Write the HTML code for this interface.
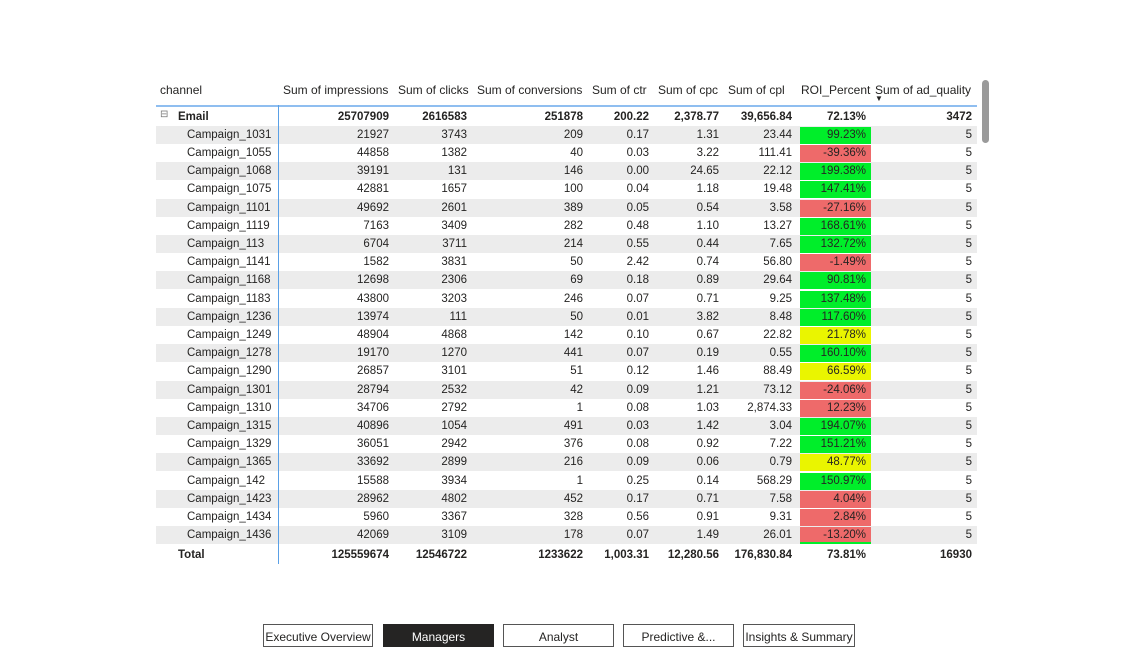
<!DOCTYPE html>
<html><head><meta charset="utf-8"><style>
body{margin:0;width:1147px;height:647px;background:#fff;font-family:"Liberation Sans",sans-serif;font-size:11.5px;color:#252423;position:relative;overflow:hidden}
.a{position:absolute;white-space:nowrap}
.r{text-align:right}
.btn{position:absolute;top:624px;height:23px;border:1px solid #555;box-sizing:border-box;background:#fff;font-size:12px;text-align:center;line-height:25px;color:#252423}
</style></head><body>
<div id="tbl"></div>
<div class="a" style="left:982px;top:80px;width:7px;height:63px;background:#9a9a9a;border-radius:4px"></div>
<div class="btn" style="left:263px;width:110px">Executive Overview</div>
<div class="btn" style="left:383px;width:111px;background:#252423;color:#fff;border-color:#252423">Managers</div>
<div class="btn" style="left:503px;width:111px">Analyst</div>
<div class="btn" style="left:623px;width:111px">Predictive &amp;...</div>
<div class="btn" style="left:743px;width:112px">Insights &amp; Summary</div>
<script>
const headers=["Sum of impressions","Sum of clicks","Sum of conversions","Sum of ctr","Sum of cpc","Sum of cpl","ROI_Percent","Sum of ad_quality"];
const campaigns=["Campaign_1031","Campaign_1055","Campaign_1068","Campaign_1075","Campaign_1101","Campaign_1119","Campaign_113","Campaign_1141","Campaign_1168","Campaign_1183","Campaign_1236","Campaign_1249","Campaign_1278","Campaign_1290","Campaign_1301","Campaign_1310","Campaign_1315","Campaign_1329","Campaign_1365","Campaign_142","Campaign_1423","Campaign_1434","Campaign_1436"];
const impressions=[21927,44858,39191,42881,49692,7163,6704,1582,12698,43800,13974,48904,19170,26857,28794,34706,40896,36051,33692,15588,28962,5960,42069];
const clicks=[3743,1382,131,1657,2601,3409,3711,3831,2306,3203,111,4868,1270,3101,2532,2792,1054,2942,2899,3934,4802,3367,3109];
const conversions=[209,40,146,100,389,282,214,50,69,246,50,142,441,51,42,1,491,376,216,1,452,328,178];
const ctr=["0.17","0.03","0.00","0.04","0.05","0.48","0.55","2.42","0.18","0.07","0.01","0.10","0.07","0.12","0.09","0.08","0.03","0.08","0.09","0.25","0.17","0.56","0.07"];
const cpc=["1.31","3.22","24.65","1.18","0.54","1.10","0.44","0.74","0.89","0.71","3.82","0.67","0.19","1.46","1.21","1.03","1.42","0.92","0.06","0.14","0.71","0.91","1.49"];
const cpl=["23.44","111.41","22.12","19.48","3.58","13.27","7.65","56.80","29.64","9.25","8.48","22.82","0.55","88.49","73.12","2,874.33","3.04","7.22","0.79","568.29","7.58","9.31","26.01"];
const roi=[99.23,-39.36,199.38,147.41,-27.16,168.61,132.72,-1.49,90.81,137.48,117.60,21.78,160.10,66.59,-24.06,12.23,194.07,151.21,48.77,150.97,4.04,2.84,-13.20];
const adq=[5,5,5,5,5,5,5,5,5,5,5,5,5,5,5,5,5,5,5,5,5,5,5];
const emailRow=["25707909","2616583","251878","200.22","2,378.77","39,656.84","72.13%","3472"];
const totalRow=["125559674","12546722","1233622","1,003.31","12,280.56","176,830.84","73.81%","16930"];
const T=document.getElementById('tbl');
const rights=[389,467,583,649,719,792,866,972];
const hlefts=[283,398,477,592,658,728,801,875];
function txt(s,x,y,opts){const d=document.createElement('div');d.className='a';d.textContent=s;d.style.left=x+'px';d.style.top=y+'px';if(opts)Object.assign(d.style,opts);T.appendChild(d);return d;}
function rtxt(s,right,y,bold){const d=txt(s,right-150,y,{width:'150px',textAlign:'right',fontWeight:bold?'bold':'normal'});return d;}
let h=txt('channel',160,83,{fontSize:'12px'});


headers.forEach((s,i)=>{const d=txt(s,hlefts[i],83,{fontSize:'12px'});

});
let ar=txt('▼',875,94,{fontSize:'8px'});


let line=txt('',156,105,{width:'821px',height:'2px',background:'#8fbef0'});


let vl=txt('',278,105,{width:'1px',height:'459px',background:'#5aa0e6'});


const rowH=18.2, y0=107.5;
let ex=txt('⊟',160,y0+1,{fontSize:'10px',color:'#777'});


let em=txt('Email',178,y0+3,{fontWeight:'bold'});


emailRow.forEach((s,i)=>{const d=rtxt(s,rights[i],y0+3,true);

});
campaigns.forEach((c,k)=>{
  const y=y0+rowH*(k+1);
  if(k%2==0){const bg=txt('',156,y,{width:'821px',height:rowH+'px',background:'#ececec',zIndex:'-1'});
  
  }
  const v=roi[k];
  const col=v<20?'#ee6a6a':(v<70?'#eaf500':'#00ee2a');
  const cell=txt('',800,y+1,{width:'71px',height:(k==campaigns.length-1?rowH-3:rowH-1)+'px',background:col,zIndex:'-1'});
  
  
  const n=txt(c,187,y+3);
  
  
  const vals=[String(impressions[k]),String(clicks[k]),String(conversions[k]),ctr[k],cpc[k],cpl[k],v.toFixed(2)+'%',String(adq[k])];
  vals.forEach((s,i)=>{const d=rtxt(s,rights[i],y+3,false);
  
  });
});
let g=txt('',800,y0+rowH*24-2,{width:'71px',height:'2px',background:'#00ee2a'});


const yt=549;
let tl=txt('Total',178,yt,{fontWeight:'bold'});


totalRow.forEach((s,i)=>{const d=rtxt(s,rights[i],yt,true);

});
</script>
</body></html>
